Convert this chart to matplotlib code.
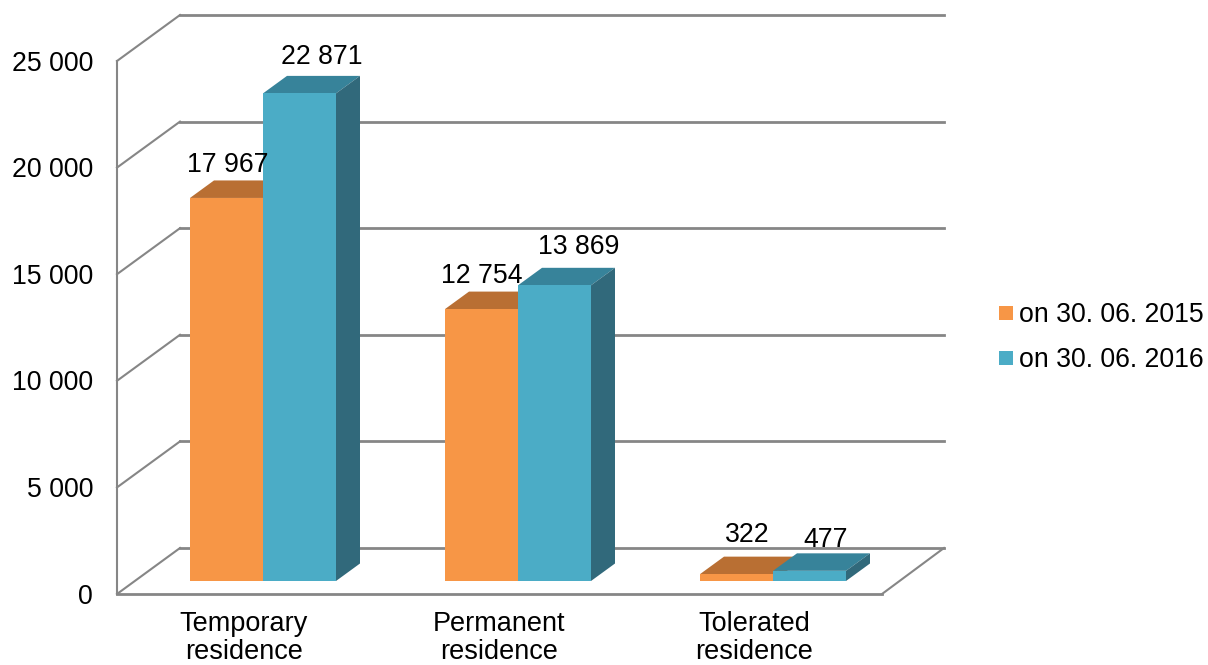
import matplotlib
matplotlib.use("Agg")
import matplotlib.pyplot as plt
from matplotlib.patches import Polygon

categories = ["Temporary\nresidence", "Permanent\nresidence", "Tolerated\nresidence"]
series_names = ["on 30. 06. 2015", "on 30. 06. 2016"]
values_2015 = [17967, 12754, 322]
values_2016 = [22871, 13869, 477]
value_labels_2015 = ["17 967", "12 754", "322"]
value_labels_2016 = ["22 871", "13 869", "477"]
y_ticks = [0, 5000, 10000, 15000, 20000, 25000]
y_tick_labels = ["0", "5 000", "10 000", "15 000", "20 000", "25 000"]

W, H = 1208, 665
K = (594 - 61) / 25000          # px per value unit
STEP = 255                      # px per category
X0 = 263                        # px of first category centre
Y0 = 594                        # px of value 0 on the front plane


def dx(px):
    return px / STEP


def dy(px):
    return px / K


plt.rcParams["font.family"] = ["Liberation Sans", "DejaVu Sans"]
fig = plt.figure(figsize=(W / 100, H / 100), dpi=100)
ax = fig.add_axes([0, 0, 1, 1])
ax.set_xlim(-X0 / STEP, (W - X0) / STEP)
ax.set_ylim(-(H - Y0) / K, Y0 / K)
ax.axis("off")

GRID = "#868686"
FS = 19.2
LW_H = 2.0
LW_D = 1.5
left = -(X0 - 117) / STEP
right = (882 - X0) / STEP
depth_x, depth_y = dx(63), dy(46)

# walls
for t, tl in zip(y_ticks, y_tick_labels):
    ax.plot([left, left + depth_x], [t, t + depth_y], color=GRID, lw=LW_D, zorder=1)
    ax.plot([left + depth_x, right + depth_x - dx(1)], [t + depth_y, t + depth_y],
            color=GRID, lw=LW_H, zorder=1)
    ax.text(left - dx(24), t - dy(2.5), tl, ha="right", va="center",
            fontsize=FS, color="black", zorder=5)
ax.plot([left, left], [0, y_ticks[-1]], color=GRID, lw=LW_D, zorder=1)
ax.plot([left, right], [0, 0], color=GRID, lw=LW_H, zorder=1)
ax.plot([right, right + depth_x - dx(1)], [0, depth_y], color=GRID, lw=LW_D, zorder=1)

# bars
bw = dx(73)
bar_dx, bar_dy = dx(24), dy(17.5)
base = dy(13)
styles = [("#F79646", "#B96F33", "#B96F33", -bw), ("#4BACC6", "#37839A", "#31697B", 0)]
labels = [value_labels_2015, value_labels_2016]
label_shift_x = [[-21, -22, -11], [0, 2, -6]]
label_shift_y = [[1, 2, 8], [5, 7, -1]]
for k, vals in enumerate([values_2015, values_2016]):
    front, top, side, off = styles[k]
    for c, v in enumerate(vals):
        x = c + off
        ax.bar(x, v, width=bw, bottom=base, align="edge", color=front, lw=0, zorder=3 + 0.1 * c)
        y = base + v
        ax.add_patch(Polygon([(x, y), (x + bw, y), (x + bw + bar_dx, y + bar_dy), (x + bar_dx, y + bar_dy)],
                             closed=True, fc=top, ec="none", zorder=2.9 + 0.02 * k))
        ax.add_patch(Polygon([(x + bw, base), (x + bw + bar_dx, base + bar_dy), (x + bw + bar_dx, y + bar_dy), (x + bw, y)],
                             closed=True, fc=side, ec="none", zorder=2.9 + 0.02 * k))
        ax.text(x + bw / 2 + dx(22 + label_shift_x[k][c]), y + bar_dy + dy(1 + label_shift_y[k][c]),
                labels[k][c], ha="center", va="bottom", fontsize=FS, color="black", zorder=6)

# category labels
for c, lab in enumerate(categories):
    ax.text(c - dx(19), -dy(17), lab, ha="center", va="top", fontsize=19.5, color="black",
            linespacing=1.1, zorder=5)

# legend
for (name, st, py) in zip(series_names, styles, [313, 358]):
    lx = (999 - X0) / STEP
    ax.add_patch(Polygon([(lx, (Y0 - py - 7) / K), (lx + dx(14), (Y0 - py - 7) / K),
                          (lx + dx(14), (Y0 - py + 7) / K), (lx, (Y0 - py + 7) / K)],
                         closed=True, fc=st[0], ec="none"))
    ax.text(lx + dx(20), (Y0 - py - 2) / K, name, ha="left", va="center", fontsize=FS, color="black")

fig.savefig("out.png", dpi=100)
